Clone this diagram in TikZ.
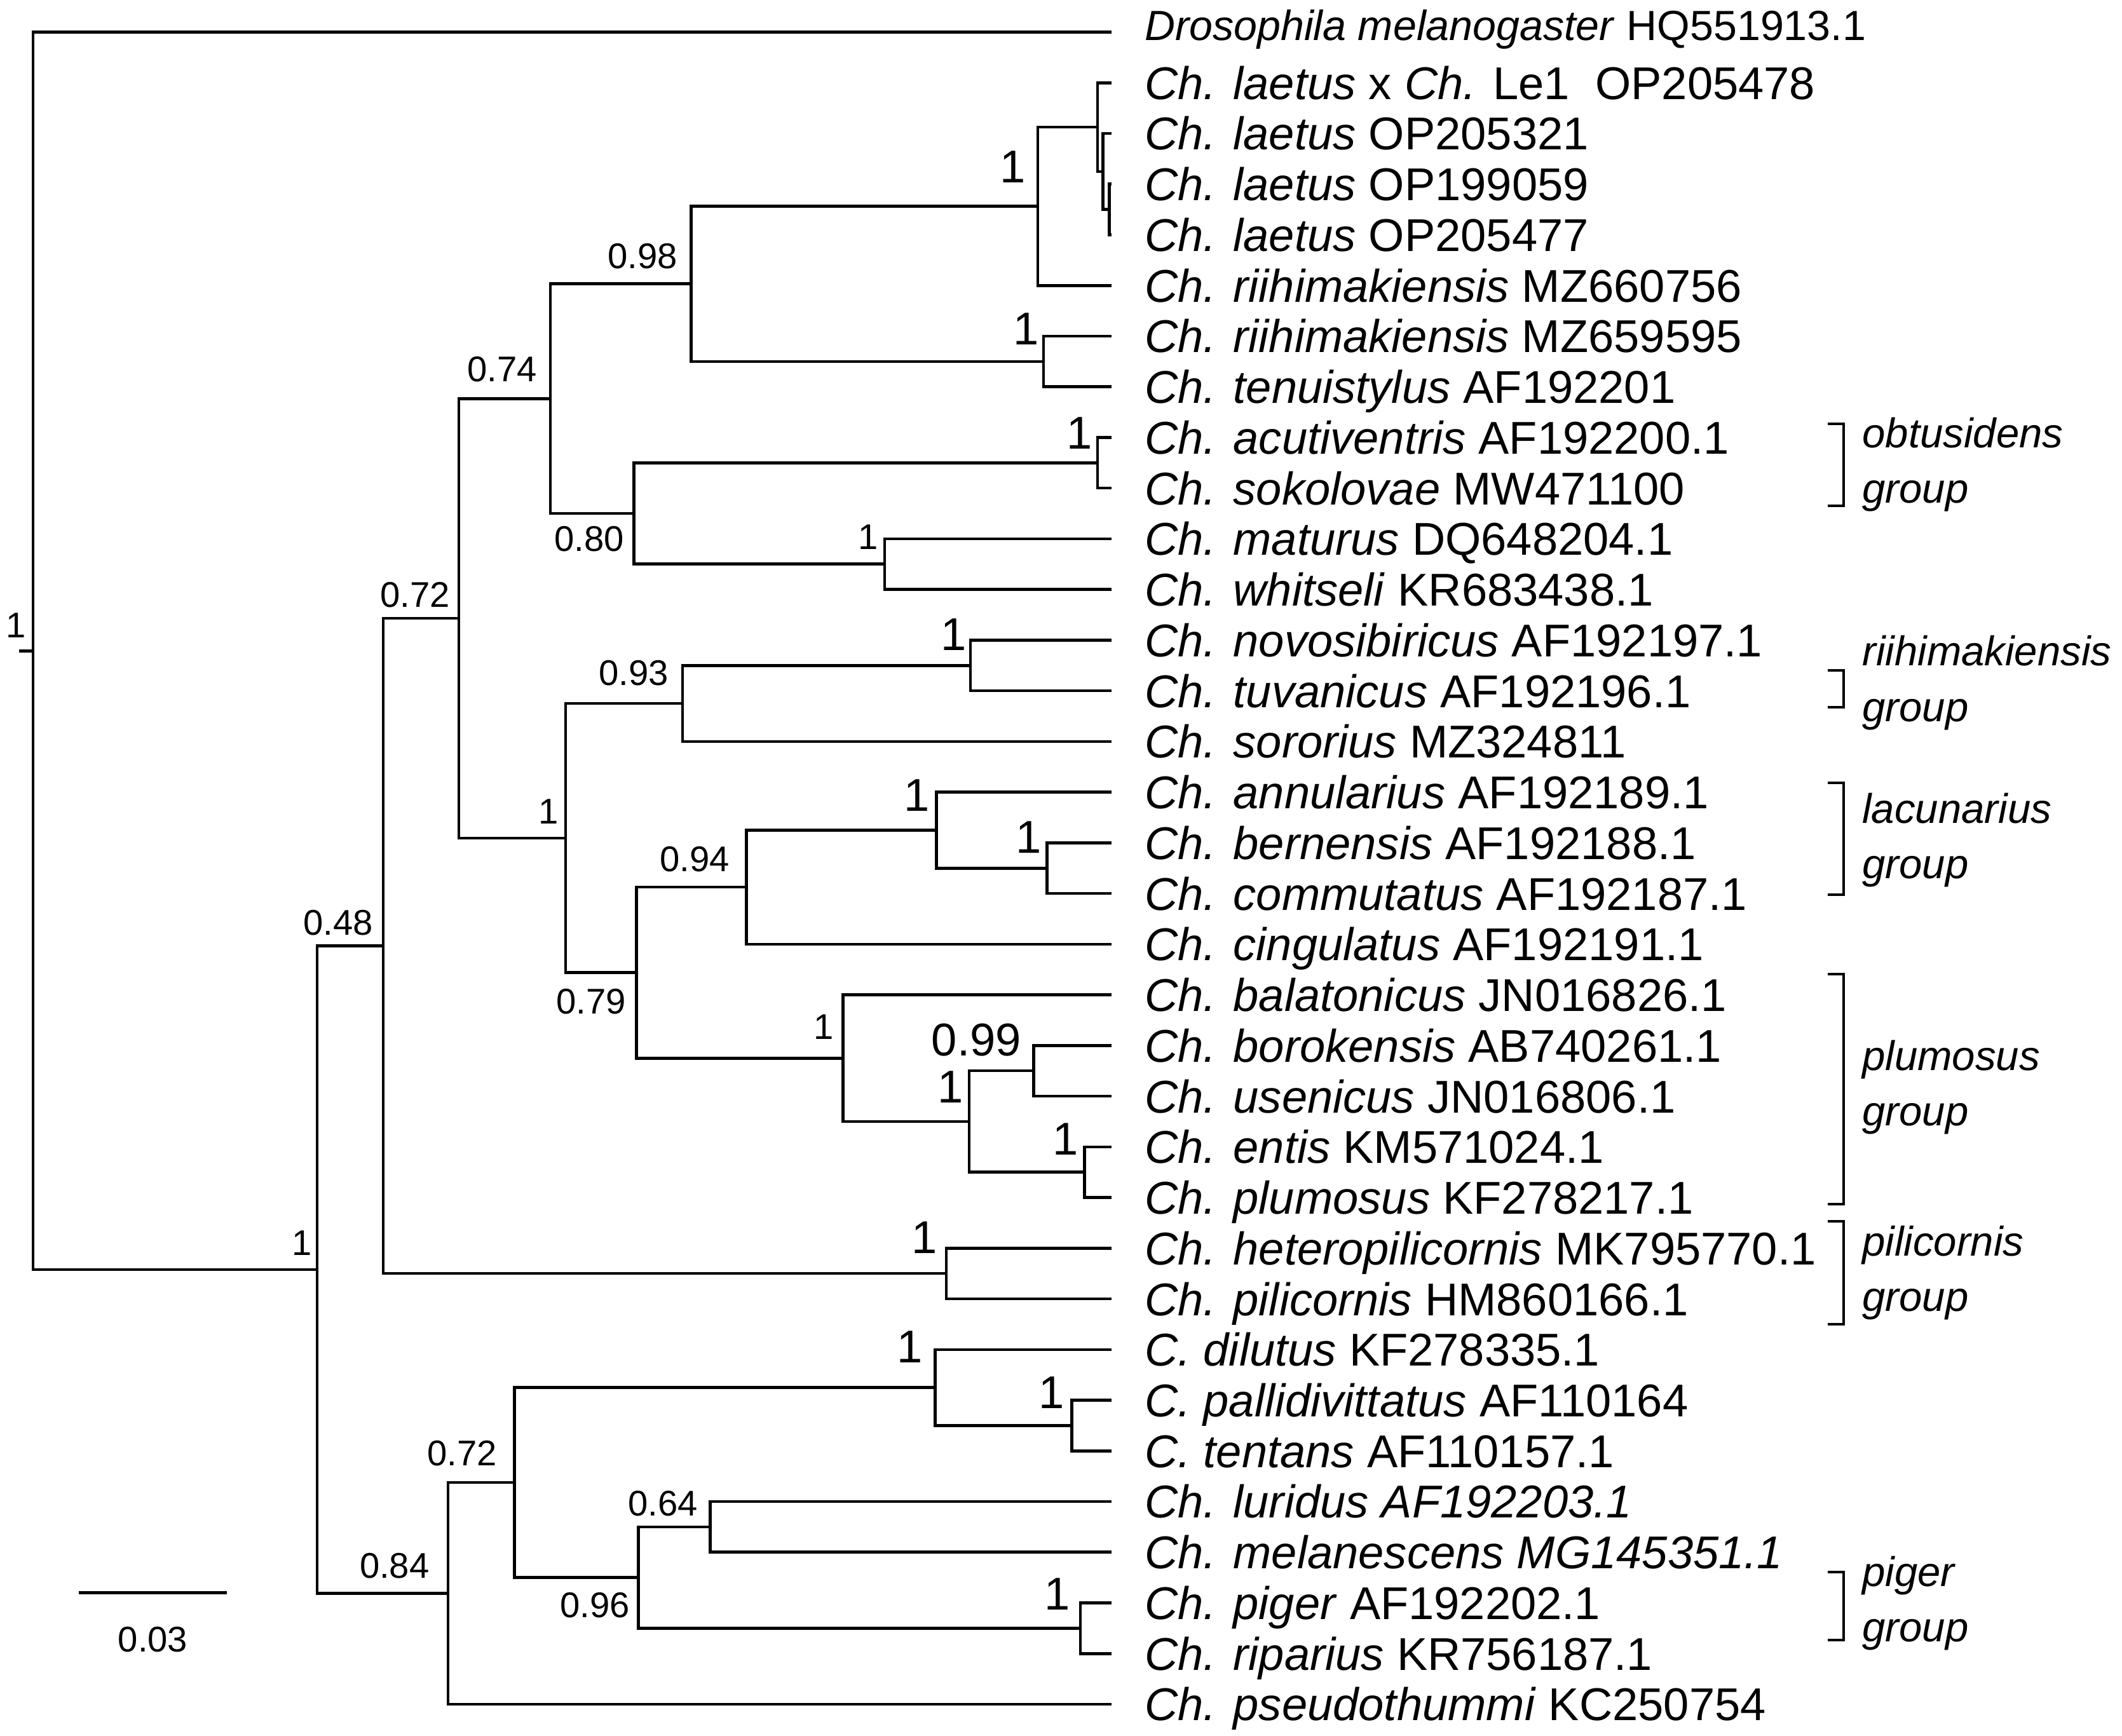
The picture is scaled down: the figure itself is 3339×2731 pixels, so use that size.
\documentclass[tikz,border=0pt]{standalone}
\usepackage{fontspec}
\setmainfont{Liberation Sans}
\usetikzlibrary{calc}
\tikzstyle{edgeline}=[line width=0.65pt, line cap=rect]
\tikzstyle{leaflab}=[anchor=base west, inner sep=0pt, xshift=0.265cm, yshift=-0.13cm, font=\fontsize{10.3}{12}\selectfont]
\tikzstyle{droslab}=[anchor=base west, inner sep=0pt, xshift=0.265cm, yshift=-0.0625cm, font=\fontsize{9.45}{11}\selectfont]
\tikzstyle{postsmall}=[anchor=base east, inner sep=0pt, font=\fontsize{8}{10}\selectfont]
\tikzstyle{postbig}=[anchor=base east, inner sep=0pt, font=\fontsize{10.3}{12}\selectfont]
\tikzstyle{grouplab}=[anchor=west, inner sep=0pt, align=left, font=\fontsize{9.3}{12.5}\selectfont\itshape]
\newcommand{\joinnode}[3]{% parent, upper child, lower child
  \draw[edgeline] (#1) |- (#2);
  \draw[edgeline] (#1) |- (#3);
}
\newcommand{\postnode}[4][postsmall]{% [style] name, position, value
  \node[#1] (#2) at (#3) {#4};
}
\newcommand{\groupbracket}[5]{% name, top, bottom, label y, label
  \draw[edgeline] (2878,#2) -| (2901,#3) -- (2878,#3);
  \node[grouplab] (#1) at (2929,#4) {#5\\group};
}

\begin{document}
\begin{tikzpicture}[x=0.005cm, y=-0.005cm]
\useasboundingbox (0,0) rectangle (3339,2731);
% leaves
\coordinate (L0) at (1747,50.5);
\node[droslab] (t0) at (L0) {\textit{Drosophila melanogaster} HQ551913.1};
\foreach \lab [count=\i] in {
  {\textit{Ch. laetus} x \textit{Ch.} Le1\ \ OP205478},
  {\textit{Ch. laetus} OP205321},
  {\textit{Ch. laetus} OP199059},
  {\textit{Ch. laetus} OP205477},
  {\textit{Ch. riihimakiensis} MZ660756},
  {\textit{Ch. riihimakiensis} MZ659595},
  {\textit{Ch. tenuistylus} AF192201},
  {\textit{Ch. acutiventris} AF192200.1},
  {\textit{Ch. sokolovae} MW471100},
  {\textit{Ch. maturus} DQ648204.1},
  {\textit{Ch. whitseli} KR683438.1},
  {\textit{Ch. novosibiricus} AF192197.1},
  {\textit{Ch. tuvanicus} AF192196.1},
  {\textit{Ch. sororius} MZ324811},
  {\textit{Ch. annularius} AF192189.1},
  {\textit{Ch. bernensis} AF192188.1},
  {\textit{Ch. commutatus} AF192187.1},
  {\textit{Ch. cingulatus} AF192191.1},
  {\textit{Ch. balatonicus} JN016826.1},
  {\textit{Ch. borokensis} AB740261.1},
  {\textit{Ch. usenicus} JN016806.1},
  {\textit{Ch. entis} KM571024.1},
  {\textit{Ch. plumosus} KF278217.1},
  {\textit{Ch. heteropilicornis} MK795770.1},
  {\textit{Ch. pilicornis} HM860166.1},
  {\textit{C. dilutus} KF278335.1},
  {\textit{C. pallidivittatus} AF110164},
  {\textit{C. tentans} AF110157.1},
  {\textit{Ch. luridus AF192203.1}},
  {\textit{Ch. melanescens MG145351.1}},
  {\textit{Ch. piger} AF192202.1},
  {\textit{Ch. riparius} KR756187.1},
  {\textit{Ch. pseudothummi} KC250754}} {
  \coordinate (L\i) at (1747,{50.5+79.74*\i});
  \node[leaflab] (t\i) at (L\i) {\lab};
}
% internal nodes
\coordinate (cC) at (1745.6,329.6);
\coordinate (cB) at (1735.7,269.8);
\coordinate (cA) at (1727,200.0);
\coordinate (nLae) at (1633,324.6);
\coordinate (nRii) at (1642,568.8);
\coordinate (n098) at (1087.5,446.7);
\coordinate (nAcu) at (1727,728.3);
\coordinate (nMat) at (1392,887.75);
\coordinate (n080) at (997.5,808.0);
\coordinate (n074) at (866,627.4);
\coordinate (nNov) at (1527,1047.25);
\coordinate (n093) at (1074,1107.1);
\coordinate (nBer) at (1647.5,1366.2);
\coordinate (nAnn) at (1473.4,1306.4);
\coordinate (n094) at (1174.5,1396.1);
\coordinate (n099) at (1626.6,1685.15);
\coordinate (nEnt) at (1706.7,1844.65);
\coordinate (nBor) at (1525,1764.9);
\coordinate (nBal) at (1326.6,1665.25);
\coordinate (n079) at (1001.6,1530.7);
\coordinate (nMid) at (890,1318.9);
\coordinate (n072a) at (722,973.15);
\coordinate (nPil) at (1489,2004.15);
\coordinate (n048) at (603,1488.65);
\coordinate (nPal) at (1686.4,2243.35);
\coordinate (nDil) at (1471.7,2183.5);
\coordinate (n064) at (1117.6,2402.85);
\coordinate (nPig) at (1699.8,2562.3);
\coordinate (n096) at (1004.5,2482.6);
\coordinate (n072b) at (809.4,2333.05);
\coordinate (n084) at (705,2507.5);
\coordinate (n1low) at (499,1998.1);
\coordinate (root) at (52,1024.3);
\coordinate (rstub) at (32,1024.3);
% branches
\joinnode{cC}{L3}{L4}
\joinnode{cB}{L2}{cC}
\joinnode{cA}{L1}{cB}
\joinnode{nLae}{cA}{L5}
\joinnode{nRii}{L6}{L7}
\joinnode{n098}{nLae}{nRii}
\joinnode{nAcu}{L8}{L9}
\joinnode{nMat}{L10}{L11}
\joinnode{n080}{nAcu}{nMat}
\joinnode{n074}{n098}{n080}
\joinnode{nNov}{L12}{L13}
\joinnode{n093}{nNov}{L14}
\joinnode{nBer}{L16}{L17}
\joinnode{nAnn}{L15}{nBer}
\joinnode{n094}{nAnn}{L18}
\joinnode{n099}{L20}{L21}
\joinnode{nEnt}{L22}{L23}
\joinnode{nBor}{n099}{nEnt}
\joinnode{nBal}{L19}{nBor}
\joinnode{n079}{n094}{nBal}
\joinnode{nMid}{n093}{n079}
\joinnode{n072a}{n074}{nMid}
\joinnode{nPil}{L24}{L25}
\joinnode{n048}{n072a}{nPil}
\joinnode{nPal}{L27}{L28}
\joinnode{nDil}{L26}{nPal}
\joinnode{n064}{L29}{L30}
\joinnode{nPig}{L31}{L32}
\joinnode{n096}{n064}{nPig}
\joinnode{n072b}{nDil}{n096}
\joinnode{n084}{n072b}{L33}
\joinnode{n1low}{n048}{n084}
\joinnode{root}{L0}{n1low}
\draw[edgeline] (rstub) -- (root);
% posterior probabilities
\postnode{s0}{42.3,1003}{1}
\postnode{s1}{492.3,1975}{1}
\postnode{s048}{588.3,1471}{0.48}
\postnode{s072a}{709.3,955}{0.72}
\postnode{s074}{846.3,600}{0.74}
\postnode{sMid}{880.3,1296}{1}
\postnode{s098}{1067.3,422}{0.98}
\postnode{s080}{983.3,867}{0.80}
\postnode{sMat}{1383.3,864}{1}
\postnode{s093}{1053.3,1078}{0.93}
\postnode{s079}{986.3,1595}{0.79}
\postnode{s094}{1149.3,1371}{0.94}
\postnode{sBal}{1313.3,1635}{1}
\postnode{s084}{676.8,2483}{0.84}
\postnode{s072b}{783.3,2306}{0.72}
\postnode{s064}{1099.3,2385}{0.64}
\postnode{s096}{992.3,2545}{0.96}
\postnode[postbig]{sLae}{1615.3,287}{1}
\postnode[postbig]{sRii}{1636,542.5}{1}
\postnode[postbig]{sAcu}{1720.3,706}{1}
\postnode[postbig]{sNov}{1522.3,1023}{1}
\postnode[postbig]{sAnn}{1464.3,1276}{1}
\postnode[postbig]{sBer}{1640.3,1342}{1}
\postnode[postbig]{s099}{1608,1661}{0.99}
\postnode[postbig]{sBor}{1517.3,1735}{1}
\postnode[postbig]{sEnt}{1698.3,1817}{1}
\postnode[postbig]{sPil}{1476.3,1972}{1}
\postnode[postbig]{sDil}{1453.3,2144}{1}
\postnode[postbig]{sPal}{1676.3,2216}{1}
\postnode[postbig]{sPig}{1685.3,2533}{1}
% species groups
\groupbracket{gObt}{667}{796}{731}{obtusidens}
\groupbracket{gRii}{1055}{1113}{1074.5}{riihimakiensis}
\groupbracket{gLac}{1232}{1408}{1322}{lacunarius}
\groupbracket{gPlu}{1533}{1895}{1711}{plumosus}
\groupbracket{gPil}{1922}{2084}{2003}{pilicornis}
\groupbracket{gPig}{2474}{2581}{2523}{piger}
% scale bar
\coordinate (sbl) at (126,2506.6);
\coordinate (sbr) at (355,2506.6);
\draw[edgeline] (sbl) -- (sbr);
\node[postsmall, anchor=base] (sbt) at (240.5,2599) {0.03};
\end{tikzpicture}
\end{document}
